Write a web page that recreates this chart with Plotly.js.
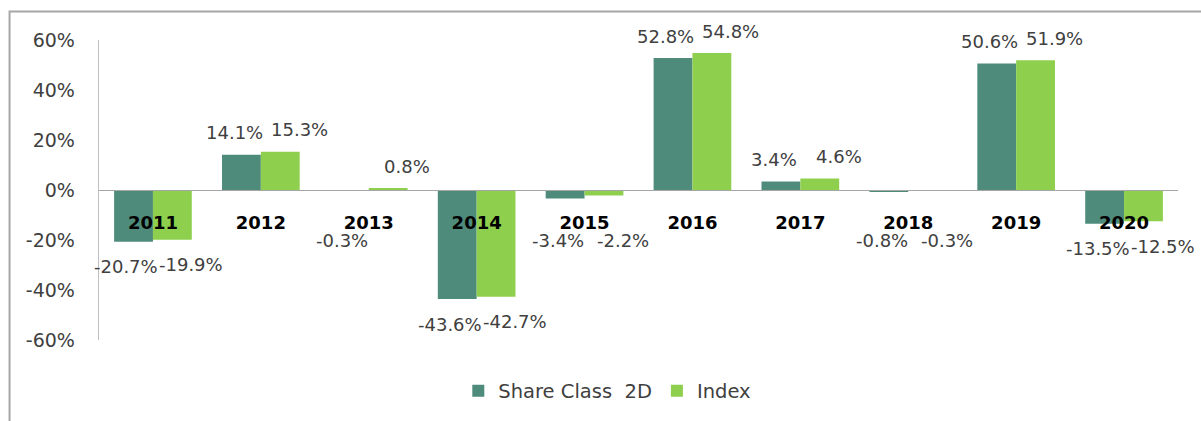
<!DOCTYPE html>
<html>
<head>
<meta charset="utf-8">
<script src="https://cdn.plot.ly/plotly-3.0.1.min.js"></script>
<style>
  html, body { margin: 0; padding: 0; background: #fff; }
  #chart { width: 1201px; height: 421px; }
</style>
</head>
<body>
<div id="chart"></div>
<script>
const years = ['2011','2012','2013','2014','2015','2016','2017','2018','2019','2020'];
const shareClass = [-20.7, 14.1, -0.3, -43.6, -3.4, 52.8, 3.4, -0.8, 50.6, -13.5];
const indexVals  = [-19.9, 15.3, 0.8, -42.7, -2.2, 54.8, 4.6, -0.3, 51.9, -12.5];
const seriesNames = ['Share Class\u00a0 2D', 'Index'];
const yTicks = [-60, -40, -20, 0, 20, 40, 60];

const FONT = 'DejaVu Sans, Verdana, sans-serif';
const TEXT = '#404040';
const colors = ['#4E8B7B', '#8ED04E'];

const traces = [shareClass, indexVals].map((vals, i) => ({
  type: 'bar',
  name: seriesNames[i],
  x: years,
  y: vals,
  marker: { color: colors[i], line: { width: 0 } },
  hoverinfo: 'x+y'
}));

// data labels, built from the series values (x given as category index).
// Negative labels are kept clear of the category labels that sit under the zero line.
const annotations = [];
[shareClass, indexVals].forEach((vals, i) => {
  vals.forEach((v, k) => {
    const pos = v >= 0;
    annotations.push({
      x: k, y: pos ? v : Math.min(v - 10, -20), xref: 'x', yref: 'y',
      text: v.toFixed(1) + '%',
      showarrow: false,
      xanchor: 'center', yanchor: 'middle',
      xshift: i === 0 ? -26.5 : 38.5,
      yshift: pos ? 22 : 0,
      font: { family: FONT, size: 18, color: TEXT }
    });
  });
});

const layout = {
  width: 1201, height: 421,
  margin: { l: 99, r: 23, t: 40, b: 80 },
  paper_bgcolor: '#fff', plot_bgcolor: '#fff',
  barmode: 'group',
  bargap: 0.28, bargroupgap: 0,
  font: { family: FONT, color: TEXT },
  showlegend: true,
  legend: {
    orientation: 'h',
    x: 0.333, xanchor: 'left',
    y: -0.166, yanchor: 'middle',
    font: { family: FONT, size: 19.5, color: TEXT },
    traceorder: 'normal',
    itemclick: false
  },
  xaxis: {
    type: 'category',
    range: [-0.5, 9.5],
    anchor: 'free', position: 0.5,
    showline: true, linecolor: '#A6A6A6', linewidth: 1.3,
    showgrid: false, zeroline: false,
    ticks: '', ticklabelstandoff: 16,
    tickfont: { family: FONT, size: 18, color: '#000', weight: 'bold' },
    fixedrange: true
  },
  yaxis: {
    range: [-60, 60],
    tickvals: yTicks,
    ticktext: yTicks.map(t => t + '%'),
    showline: true, linecolor: '#BFBFBF', linewidth: 1.3,
    showgrid: false, zeroline: false,
    ticks: '', ticklabelstandoff: 19,
    tickfont: { family: FONT, size: 19, color: TEXT },
    fixedrange: true
  },
  shapes: [{
    type: 'rect', xref: 'paper', yref: 'paper',
    x0: -0.0829, x1: 1.05, y0: -0.5, y1: 1.0947,
    line: { color: '#A6A6A6', width: 2 },
    fillcolor: 'rgba(0,0,0,0)', layer: 'below'
  }],
  annotations: annotations
};

Plotly.newPlot('chart', traces, layout, { displayModeBar: false, staticPlot: true });
</script>
</body>
</html>
